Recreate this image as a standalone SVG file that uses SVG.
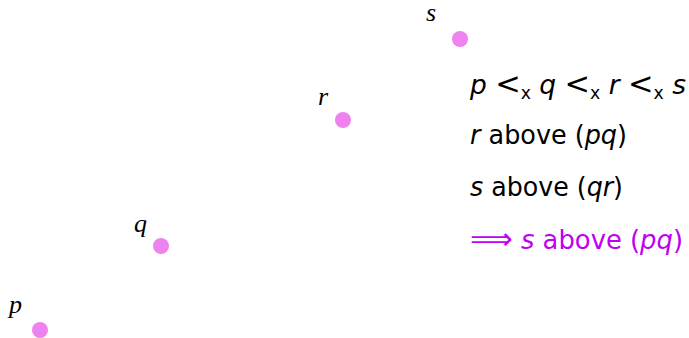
<svg xmlns="http://www.w3.org/2000/svg" width="689" height="338" viewBox="0 0 689 338">
<style>
.pt{fill:#ee82ee}
.lbl{font-family:"Liberation Serif",serif;font-style:italic;font-size:26px;fill:#000}
.t{font-family:"DejaVu Sans","Liberation Sans",sans-serif;font-size:26px;fill:#000}
.i{font-style:italic}
.sub{font-size:17px}
.lt{font-size:30px}
.hl{fill:#c000f0}
</style>
<rect width="689" height="338" fill="#fff"/>
<g id="p"><circle class="pt" cx="40" cy="330" r="8"/><text class="lbl" x="9" y="313">p</text></g>
<g id="q"><circle class="pt" cx="161" cy="246" r="8"/><text class="lbl" x="134" y="232">q</text></g>
<g id="r"><circle class="pt" cx="343" cy="120" r="8"/><text class="lbl" x="318" y="105">r</text></g>
<g id="s"><circle class="pt" cx="460" cy="39" r="8"/><text class="lbl" x="426" y="21">s</text></g>
<g id="connectors"></g>
<g id="statements">
<text class="t" x="470" y="94" textLength="216" lengthAdjust="spacingAndGlyphs"><tspan class="i">p</tspan> <tspan class="lt">&lt;</tspan><tspan class="sub" dy="5">x</tspan><tspan dy="-5"> </tspan><tspan class="i">q</tspan> <tspan class="lt">&lt;</tspan><tspan class="sub" dy="5">x</tspan><tspan dy="-5"> </tspan><tspan class="i">r</tspan> <tspan class="lt">&lt;</tspan><tspan class="sub" dy="5">x</tspan><tspan dy="-5"> </tspan><tspan class="i">s</tspan></text>
<text class="t" x="470" y="144" textLength="157" lengthAdjust="spacingAndGlyphs"><tspan class="i">r</tspan> above (<tspan class="i">pq</tspan>)</text>
<text class="t" x="470" y="196" textLength="153" lengthAdjust="spacingAndGlyphs"><tspan class="i">s</tspan> above (<tspan class="i">qr</tspan>)</text>
<text class="t hl" x="470" y="249" textLength="213" lengthAdjust="spacingAndGlyphs"><tspan class="lt">⟹</tspan> <tspan class="i">s</tspan> above (<tspan class="i">pq</tspan>)</text>
</g>
</svg>
